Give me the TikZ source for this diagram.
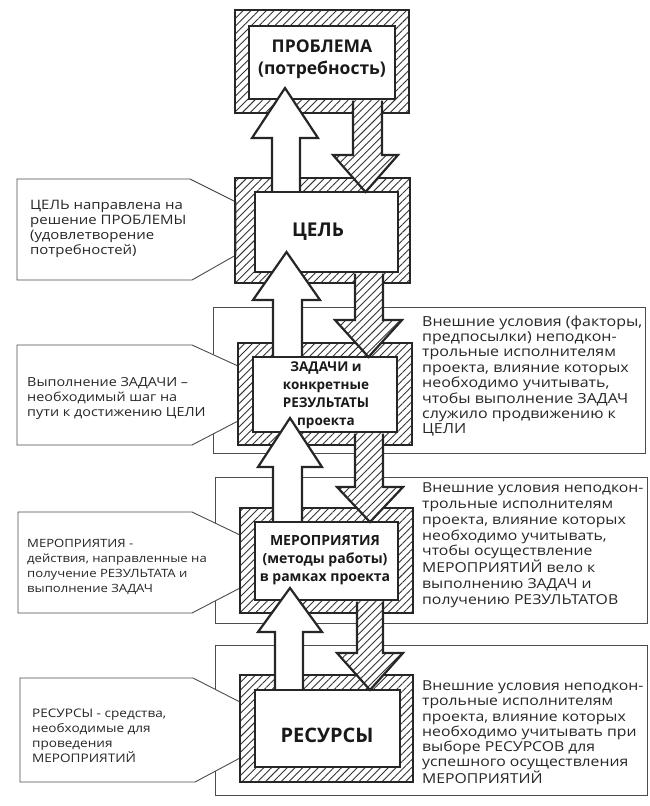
\documentclass[tikz,border=0pt]{standalone}
\usepackage{fontspec}
\setmainfont{Open Sans}
\newfontfamily\notefont{Open Sans}[FakeStretch=1.15]
\usetikzlibrary{patterns.meta}

\tikzset{
  hatch/.style={pattern={Lines[angle=45,distance=5.5pt,line width=0.9pt]},pattern color=black!80},
  frame/.style={hatch,draw=black!85,line width=1.3pt},
  inbox/.style={fill=white,draw=black!85,line width=2.4pt},
  callout/.style={fill=white,draw=black!70,line width=0.9pt},
  cond/.style={draw=black!70,line width=0.9pt},
  upblock/.style={fill=white,draw=black!85,line width=2.2pt,line join=miter},
  downblock/.style={preaction={fill=white},hatch,draw=black!85,line width=2.2pt,line join=miter},
  note/.style={anchor=base west,align=left,inner sep=0pt,text=black!85},
  title/.style={align=center,inner sep=0pt,text=black!90}
}

\begin{document}
\begin{tikzpicture}[x=1pt,y=-1pt]
    \useasboundingbox (0,0) rectangle (650,806);

    % outer frames of the external conditions
    \draw[cond] (213,307) rectangle (645,453);
    \draw[cond] (215,477) rectangle (647,623);
    \draw[cond] (215,645) rectangle (647,795);

    % left callouts
    \draw[callout] (17,179) -- (190,179) -- (236,202) -- (236,255) -- (192,280) -- (17,280) -- cycle;
    \draw[callout] (17,345) -- (192,345) -- (238,366) -- (238,421) -- (192,445) -- (17,445) -- cycle;
    \draw[callout] (18,512) -- (192,512) -- (240,535) -- (240,588) -- (192,613) -- (18,613) -- cycle;
    \draw[callout] (20,678) -- (193,678) -- (240,702) -- (240,758) -- (195,782) -- (20,782) -- cycle;

    % PROBLEMA
    \draw[frame] (235,10) rectangle (409,113);
    \draw[inbox] (249,26) rectangle (395,99);

    % CEL
    \draw[frame] (235,178) rectangle (410,283);
    \draw[inbox] (255,192) rectangle (398,272);

    % ZADACHI
    \draw[frame] (238,343) rectangle (412,445);
    \draw[inbox] (253,357) rectangle (397,432);

    % MEROPRIYATIYA
    \draw[frame] (240,508) rectangle (413,613);
    \draw[inbox] (255,522) rectangle (398,600);

    % RESURSY
    \draw[frame] (240,675) rectangle (413,782);
    \draw[inbox] (255,690) rectangle (400,767);

    % up arrows
    \filldraw[upblock] (272,190.8) -- (272,138) -- (252,138) -- (285,88) -- (318,138) -- (300,138) -- (300,190.8);
    \filldraw[upblock] (273,355.8) -- (273,300) -- (253,300) -- (286.5,252) -- (320,300) -- (302,300) -- (302,355.8);
    \filldraw[upblock] (273,520.8) -- (273,467) -- (258,467) -- (290,418) -- (322,467) -- (302,467) -- (302,520.8);
    \filldraw[upblock] (275,688.8) -- (275,632) -- (258,632) -- (290,588) -- (322,632) -- (303,632) -- (303,688.8);

    % down arrows
    \filldraw[downblock] (353,100.5) -- (353,155) -- (333,155) -- (365.5,192) -- (398,155) -- (382,155) -- (382,100.5);
    \filldraw[downblock] (355,273.5) -- (355,320) -- (335,320) -- (368.5,357) -- (402,320) -- (383,320) -- (383,273.5);
    \filldraw[downblock] (355,433.5) -- (355,487) -- (337,487) -- (370,522) -- (403,487) -- (383,487) -- (383,433.5);
    \filldraw[downblock] (357,601.5) -- (357,653) -- (337,653) -- (370,690) -- (403,653) -- (383,653) -- (383,601.5);

    % box titles
    \node[title,font=\bfseries\fontsize{17.5}{22}\selectfont] (problema) at (322,59) {ПРОБЛЕМА\\(потребность)};
    \node[title,font=\bfseries\fontsize{19}{22}\selectfont] (cel) at (318,232) {ЦЕЛЬ};
    \node[title,font=\bfseries\fontsize{13.5}{18}\selectfont] (zadachi) at (326,395) {ЗАДАЧИ и\\конкретные\\РЕЗУЛЬТАТЫ\\проекта};
    \node[title,font=\bfseries\fontsize{14}{18}\selectfont] (meropr) at (325,560) {МЕРОПРИЯТИЯ\\(методы работы)\\в рамках проекта};
    \node[title,font=\bfseries\fontsize{20}{22}\selectfont] (resursy) at (327,735) {РЕСУРСЫ};

    % left notes
    \node[note,font=\notefont\fontsize{13}{15}\selectfont] (celNote) at (30,254) {ЦЕЛЬ направлена на\\решение ПРОБЛЕМЫ\\(удовлетворение\\потребностей)};
    \node[note,font=\notefont\fontsize{12.5}{15}\selectfont] (zadNote) at (27,416) {Выполнение ЗАДАЧИ –\\необходимый шаг на\\пути к достижению ЦЕЛИ};
    \node[note,font=\notefont\fontsize{11.4}{15}\selectfont] (merNote) at (27,592) {МЕРОПРИЯТИЯ -\\действия, направленные на\\получение РЕЗУЛЬТАТА и\\выполнение ЗАДАЧ};
    \node[note,font=\notefont\fontsize{11.8}{15}\selectfont] (resNote) at (32,762) {РЕСУРСЫ - средства,\\необходимые для\\проведения\\МЕРОПРИЯТИЙ};

    % right notes
    \node[note,font=\notefont\fontsize{13.9}{15.4}\selectfont] (zadCond) at (422,433.8) {Внешние условия (факторы,\\предпосылки) неподкон-\\трольные исполнителям\\проекта, влияние которых\\необходимо учитывать,\\чтобы выполнение ЗАДАЧ\\служило продвижению к\\ЦЕЛИ};
    \node[note,font=\notefont\fontsize{13.7}{15.7}\selectfont] (merCond) at (422,604) {Внешние условия неподкон-\\трольные исполнителям\\проекта, влияние которых\\необходимо учитывать,\\чтобы осуществление\\МЕРОПРИЯТИЙ вело к\\выполнению ЗАДАЧ и\\получению РЕЗУЛЬТАТОВ};
    \node[note,font=\notefont\fontsize{13.7}{15.3}\selectfont] (resCond) at (422,783.8) {Внешние условия неподкон-\\трольные исполнителям\\проекта, влияние которых\\необходимо учитывать при\\выборе РЕСУРСОВ для\\успешного осуществления\\МЕРОПРИЯТИЙ};
\end{tikzpicture}
\end{document}
